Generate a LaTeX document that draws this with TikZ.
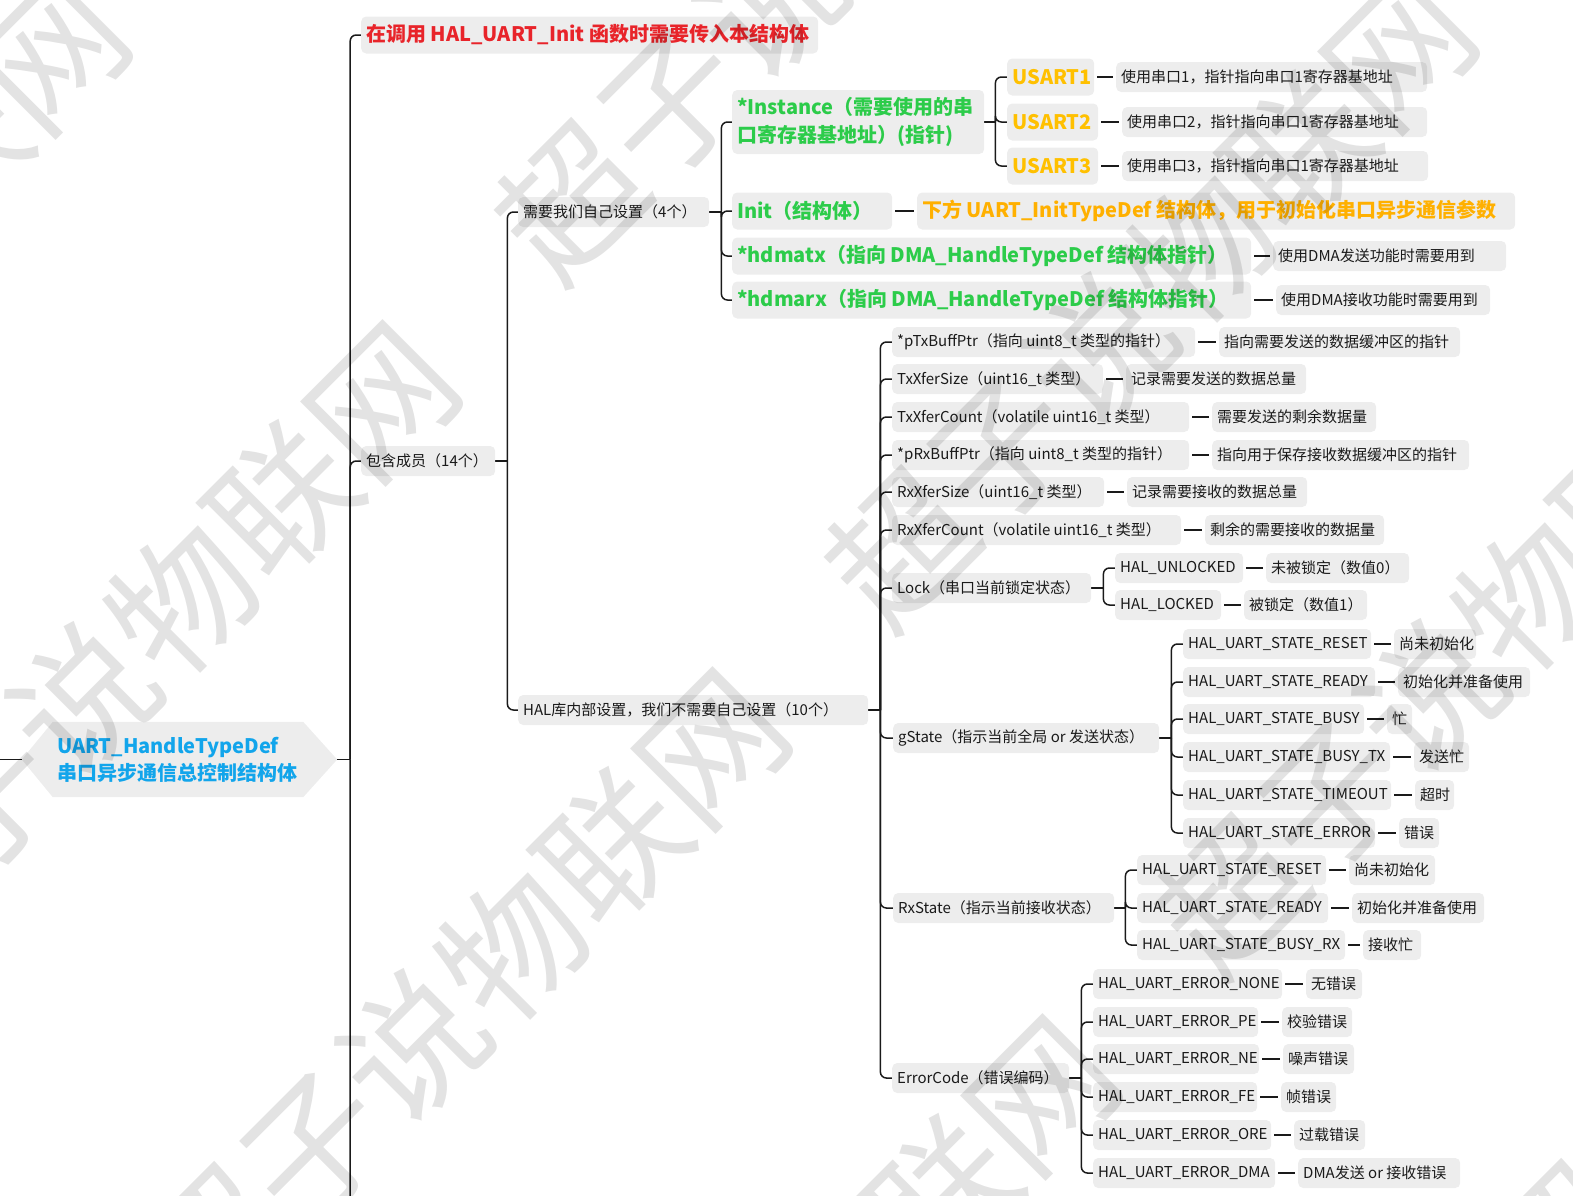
\documentclass[tikz,border=0pt]{standalone}
\usepackage{fontspec}
\setmainfont{Noto Sans CJK SC}
\usetikzlibrary{backgrounds}
\definecolor{boxgray}{RGB}{237,237,237}
\definecolor{ink}{RGB}{26,26,26}
\definecolor{cred}{RGB}{232,36,42}
\definecolor{cgreen}{RGB}{44,204,74}
\definecolor{cyel}{RGB}{255,192,0}
\definecolor{corange}{RGB}{255,176,0}
\definecolor{cblue}{RGB}{18,165,235}
\tikzset{
  conn/.style={draw=ink, line width=1.5pt, rounded corners=6pt},
  dashc/.style={draw=ink, line width=2pt, shorten <=3pt, shorten >=3pt},
  sm/.style={fill=boxgray, rounded corners=5pt, inner xsep=5pt, inner ysep=0pt,
    minimum height=30pt, font=\fontsize{15pt}{18pt}\selectfont, text=ink},
  bigt/.style={sm, font=\fontsize{20pt}{28pt}\selectfont\bfseries, minimum height=37pt},
  grn/.style={bigt, text=cgreen},
  usart/.style={bigt, text=cyel},
  wm/.style={text=black, text opacity=0.11, rotate=45, inner sep=0pt,
    font=\fontsize{141pt}{141pt}\selectfont},
}
\newcommand\bx[6]{\node[#5, anchor=west, minimum width=#4pt] (#1) at (#2,#3)
  {\makebox[\dimexpr#4pt-10pt\relax][l]{#6}};}
\begin{document}
\begin{tikzpicture}[x=1pt,y=-1pt]
\useasboundingbox (0,0) rectangle (1573,1195);

% root
\node[inner xsep=35pt, inner ysep=0pt, minimum width=315pt, minimum height=75pt,
  text width=245pt, align=left, text=cblue,
  font=\fontsize{20pt}{27pt}\selectfont\bfseries] (root) at (179.5,759.5)
  {\mbox{UART\_HandleTypeDef}\\\mbox{串口异步通信总控制结构体}};
\begin{pgfonlayer}{background}
\fill[boxgray] (root.west) -- ([xshift=31pt]root.north west) -- ([xshift=-34pt]root.north east)
  -- (root.east) -- ([xshift=-34pt]root.south east) -- ([xshift=31pt]root.south west) -- cycle;
\end{pgfonlayer}

% level 1
\bx{t0}{361}{35}{457}{bigt, text=cred}{在调用 HAL\_UART\_Init 函数时需要传入本结构体}
\bx{m14}{361}{461}{134}{sm}{包含成员（14个）}
\coordinate (more) at (350,1200);
\coordinate (offl) at (-2,759.5);

% level 2
\bx{self4}{518}{212}{191}{sm}{需要我们自己设置（4个）}
\bx{hal10}{518}{710}{350}{sm}{HAL库内部设置，我们不需要自己设置（10个）}

% level 3 (self)
\node[grn, anchor=west, minimum width=252pt, minimum height=64pt, text width=242pt, align=left]
  (inst) at (732,122) {\mbox{*Instance（需要使用的串}\\\mbox{口寄存器基地址）(指针)}};
\bx{init}{732}{211}{160}{grn}{Init（结构体）}
\bx{hdtx}{732}{256}{519}{grn}{*hdmatx（指向 DMA\_HandleTypeDef 结构体指针）}
\bx{hdrx}{732}{300}{519}{grn}{*hdmarx（指向 DMA\_HandleTypeDef 结构体指针）}

\bx{u1}{1007}{77}{87}{usart}{USART1}
\bx{u2}{1007}{122}{91}{usart}{USART2}
\bx{u3}{1007}{166}{91}{usart}{USART3}
\bx{u1l}{1116}{77}{311}{sm}{使用串口1，指针指向串口1寄存器基地址}
\bx{u2l}{1122}{122}{305}{sm}{使用串口2，指针指向串口1寄存器基地址}
\bx{u3l}{1122}{166}{306}{sm}{使用串口3，指针指向串口1寄存器基地址}
\bx{initl}{917}{211}{598}{bigt, text=corange}{下方 UART\_InitTypeDef 结构体，用于初始化串口异步通信参数}
\bx{hdtxl}{1273}{256}{233}{sm}{使用DMA发送功能时需要用到}
\bx{hdrxl}{1276}{300}{214}{sm}{使用DMA接收功能时需要用到}

% level 3 (HAL)
\bx{ptx}{892}{342}{303}{sm}{*pTxBuffPtr（指向 uint8\_t 类型的指针）}
\bx{ptxl}{1219}{342}{241}{sm}{指向需要发送的数据缓冲区的指针}
\bx{txs}{892}{379}{211}{sm}{TxXferSize（uint16\_t 类型）}
\bx{txsl}{1126}{379}{180}{sm}{记录需要发送的数据总量}
\bx{txc}{892}{417}{297}{sm}{TxXferCount（volatile uint16\_t 类型）}
\bx{txcl}{1212}{417}{164}{sm}{需要发送的剩余数据量}
\bx{prx}{892}{455}{297}{sm}{*pRxBuffPtr（指向 uint8\_t 类型的指针）}
\bx{prxl}{1212}{455}{257}{sm}{指向用于保存接收数据缓冲区的指针}
\bx{rxs}{892}{492}{212}{sm}{RxXferSize（uint16\_t 类型）}
\bx{rxsl}{1127}{492}{180}{sm}{记录需要接收的数据总量}
\bx{rxc}{892}{530}{289}{sm}{RxXferCount（volatile uint16\_t 类型）}
\bx{rxcl}{1205}{530}{179}{sm}{剩余的需要接收的数据量}
\bx{lock}{892}{588}{199}{sm}{Lock（串口当前锁定状态）}
\bx{unl}{1115}{568}{128}{sm}{HAL\_UNLOCKED}
\bx{unll}{1266}{568}{143}{sm}{未被锁定（数值0）}
\bx{lkd}{1115}{605}{106}{sm}{HAL\_LOCKED}
\bx{lkdl}{1244}{605}{123}{sm}{被锁定（数值1）}

\bx{gst}{893}{738}{266}{sm}{gState（指示当前全局 or 发送状态）}
\bx{gs1}{1183}{644}{188}{sm}{HAL\_UART\_STATE\_RESET}
\bx{gs1l}{1394}{644}{82}{sm}{尚未初始化}
\bx{gs2}{1183}{682}{192}{sm}{HAL\_UART\_STATE\_READY}
\bx{gs2l}{1398}{682}{132}{sm}{初始化并准备使用}
\bx{gs3}{1183}{719}{181}{sm}{HAL\_UART\_STATE\_BUSY}
\bx{gs3l}{1387}{719}{25}{sm}{忙}
\bx{gs4}{1183}{757}{207}{sm}{HAL\_UART\_STATE\_BUSY\_TX}
\bx{gs4l}{1414}{757}{55}{sm}{发送忙}
\bx{gs5}{1183}{795}{208}{sm}{HAL\_UART\_STATE\_TIMEOUT}
\bx{gs5l}{1415}{795}{39}{sm}{超时}
\bx{gs6}{1183}{833}{192}{sm}{HAL\_UART\_STATE\_ERROR}
\bx{gs6l}{1399}{833}{40}{sm}{错误}

\bx{rst}{893}{908}{221}{sm}{RxState（指示当前接收状态）}
\bx{rs1}{1137}{870}{189}{sm}{HAL\_UART\_STATE\_RESET}
\bx{rs1l}{1349}{870}{86}{sm}{尚未初始化}
\bx{rs2}{1137}{908}{191}{sm}{HAL\_UART\_STATE\_READY}
\bx{rs2l}{1352}{908}{132}{sm}{初始化并准备使用}
\bx{rs3}{1137}{945}{208}{sm}{HAL\_UART\_STATE\_BUSY\_RX}
\bx{rs3l}{1363}{945}{58}{sm}{接收忙}

\bx{err}{892}{1078}{177}{sm}{ErrorCode（错误编码）}
\bx{e1}{1093}{984}{189}{sm}{HAL\_UART\_ERROR\_NONE}
\bx{e1l}{1306}{984}{56}{sm}{无错误}
\bx{e2}{1093}{1022}{165}{sm}{HAL\_UART\_ERROR\_PE}
\bx{e2l}{1282}{1022}{70}{sm}{校验错误}
\bx{e3}{1093}{1059}{166}{sm}{HAL\_UART\_ERROR\_NE}
\bx{e3l}{1283}{1059}{71}{sm}{噪声错误}
\bx{e4}{1093}{1097}{164}{sm}{HAL\_UART\_ERROR\_FE}
\bx{e4l}{1281}{1097}{55}{sm}{帧错误}
\bx{e5}{1093}{1135}{178}{sm}{HAL\_UART\_ERROR\_ORE}
\bx{e5l}{1294}{1135}{71}{sm}{过载错误}
\bx{e6}{1093}{1173}{182}{sm}{HAL\_UART\_ERROR\_DMA}
\bx{e6l}{1298}{1173}{162}{sm}{DMA发送 or 接收错误}

% connectors
\begin{pgfonlayer}{background}
\draw[conn] (offl) -- (root.west);
\draw[conn] (root.east) -- ++(13,0) coordinate (rj);
\draw[conn] (rj) -- (more);
\foreach \c in {t0,m14} \draw[conn] (rj) |- (\c.west);

\draw[conn] (m14.east) -- ++(12,0) coordinate (mj);
\foreach \c in {self4,hal10} \draw[conn] (mj) |- (\c.west);

\draw[conn] (self4.east) -- ++(12,0) coordinate (sj);
\foreach \c in {inst,init,hdtx,hdrx} \draw[conn] (sj) |- (\c.west);

\draw[conn] (inst.east) -- ++(11,0) coordinate (ij);
\foreach \c in {u1,u2,u3} \draw[conn] (ij) |- (\c.west);

\draw[conn] (hal10.east) -- ++(12,0) coordinate (hj);
\foreach \c in {ptx,txs,txc,prx,rxs,rxc,lock,gst,rst,err} \draw[conn] (hj) |- (\c.west);

\draw[conn] (lock.east) -- ++(12,0) coordinate (lj);
\foreach \c in {unl,lkd} \draw[conn] (lj) |- (\c.west);

\draw[conn] (gst.east) -- ++(12,0) coordinate (gj);
\foreach \c in {gs1,gs2,gs3,gs4,gs5,gs6} \draw[conn] (gj) |- (\c.west);

\draw[conn] (rst.east) -- ++(11,0) coordinate (xj);
\foreach \c in {rs1,rs2,rs3} \draw[conn] (xj) |- (\c.west);

\draw[conn] (err.east) -- ++(12,0) coordinate (ej);
\foreach \c in {e1,e2,e3,e4,e5,e6} \draw[conn] (ej) |- (\c.west);

\foreach \a in {u1,u2,u3,init,hdtx,hdrx,ptx,txs,txc,prx,rxs,rxc,unl,lkd,
  gs1,gs2,gs3,gs4,gs5,gs6,rs1,rs2,rs3,e1,e2,e3,e4,e5,e6}
  \draw[dashc] (\a.east) -- (\a l.west);
\end{pgfonlayer}

% watermark
\node[wm] (wmB) at (-197,303) {超子说物联网};
\node[wm] (wmT) at (820,-47) {超子说物联网};
\node[wm] (wmA) at (133,650) {超子说物联网};
\node[wm] (wmC) at (1150,300) {超子说物联网};
\node[wm] (wmD) at (463,997) {超子说物联网};
\node[wm] (wmE) at (1480,647) {超子说物联网};
\node[wm] (wmG) at (793,1344) {超子说物联网};
\node[wm] (wmH) at (1810,994) {超子说物联网};
\end{tikzpicture}
\end{document}
